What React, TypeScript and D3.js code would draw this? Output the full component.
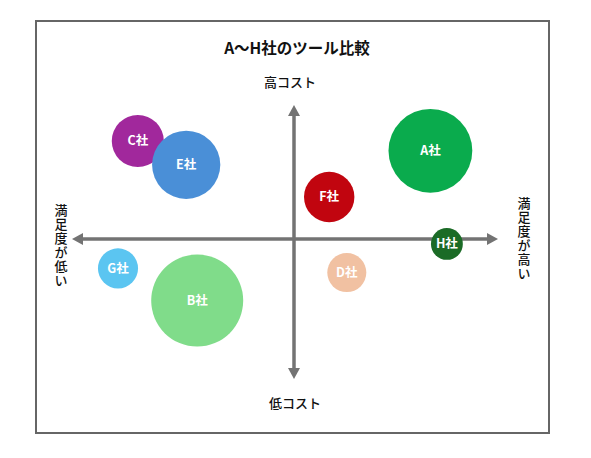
import React from "react";
import * as d3 from "d3";

const companies = ["A社", "B社", "C社", "D社", "E社", "F社", "G社", "H社"];
const satisfaction = [62, -44, -71, 24, -49, 16, -80, 69.5];
const cost = [63, -44, 70, -24, 53, 30, -21, -3.5];
const share = [83, 100, 32, 18, 55, 30, 19, 12];
const colors = ["#0aab4d", "#80dc8a", "#a1289c", "#f1c1a2", "#4a8fd7", "#c1050f", "#5bc5f1", "#1b6b26"];
const title = "A〜H社のツール比較";
const axisLabels = { top: "高コスト", bottom: "低コスト", left: "満足度が低い", right: "満足度が高い" };

const W = 591;
const H = 458;
const FONT = "'Noto Sans CJK JP', 'Noto Sans', sans-serif";

export default function App() {
  const x = d3.scaleLinear().domain([-100, 100]).range([74, 514]);
  const y = d3.scaleLinear().domain([-100, 100]).range([379, 99]);
  const r = d3.scaleSqrt().domain([0, 100]).range([0, 46]);
  const cx = x(0);
  const cy = y(0);
  const axisColor = "#737373";

  const leftX = 72, rightX = 498, topY = 105, bottomY = 379;
  const ah = 11, aw = 6;

  const order = d3.range(companies.length);
  const vStyle: React.CSSProperties = { writingMode: "vertical-rl", textOrientation: "upright", letterSpacing: "1px" } as any;

  return (
    <svg width={W} height={H} style={{ position: "absolute", left: 0, top: 0, fontFamily: FONT }}>
      <rect x={0} y={0} width={W} height={H} fill="#fff" />
      <rect x={36} y={21} width={513} height={412} fill="#fff" stroke="#666" strokeWidth={2} />
      <text x={297} y={54} textAnchor="middle" fontSize={15.5} fontWeight={700} fill="#111">{title}</text>

      {/* axes */}
      <line x1={leftX + ah - 1} y1={cy} x2={rightX - ah + 1} y2={cy} stroke={axisColor} strokeWidth={3.5} />
      <path d={`M${leftX},${cy} L${leftX + ah},${cy - aw} L${leftX + ah},${cy + aw} Z`} fill={axisColor} />
      <path d={`M${rightX},${cy} L${rightX - ah},${cy - aw} L${rightX - ah},${cy + aw} Z`} fill={axisColor} />
      <line x1={cx} y1={topY + ah - 1} x2={cx} y2={bottomY - ah + 1} stroke={axisColor} strokeWidth={3.5} />
      <path d={`M${cx},${topY} L${cx - aw},${topY + ah} L${cx + aw},${topY + ah} Z`} fill={axisColor} />
      <path d={`M${cx},${bottomY} L${cx - aw},${bottomY - ah} L${cx + aw},${bottomY - ah} Z`} fill={axisColor} />

      <text x={290} y={87} textAnchor="middle" fontSize={13} fontWeight={500} fill="#111">{axisLabels.top}</text>
      <text x={295} y={408} textAnchor="middle" fontSize={13} fontWeight={500} fill="#111">{axisLabels.bottom}</text>
      <text x={61} y={204} fontSize={13} fontWeight={500} fill="#111" style={vStyle}>{axisLabels.left}</text>
      <text x={524} y={197} fontSize={13} fontWeight={500} fill="#111" style={vStyle}>{axisLabels.right}</text>

      {order.map((i) => (
        <g key={companies[i]}>
          <circle cx={x(satisfaction[i])} cy={y(cost[i])} r={r(share[i])} fill={colors[i]} />
          <text
            x={x(satisfaction[i])}
            y={y(cost[i])}
            dy="0.35em"
            textAnchor="middle"
            fontSize={12.5}
            fontWeight={700}
            fill="#fff"
          >
            {companies[i]}
          </text>
        </g>
      ))}
    </svg>
  );
}
